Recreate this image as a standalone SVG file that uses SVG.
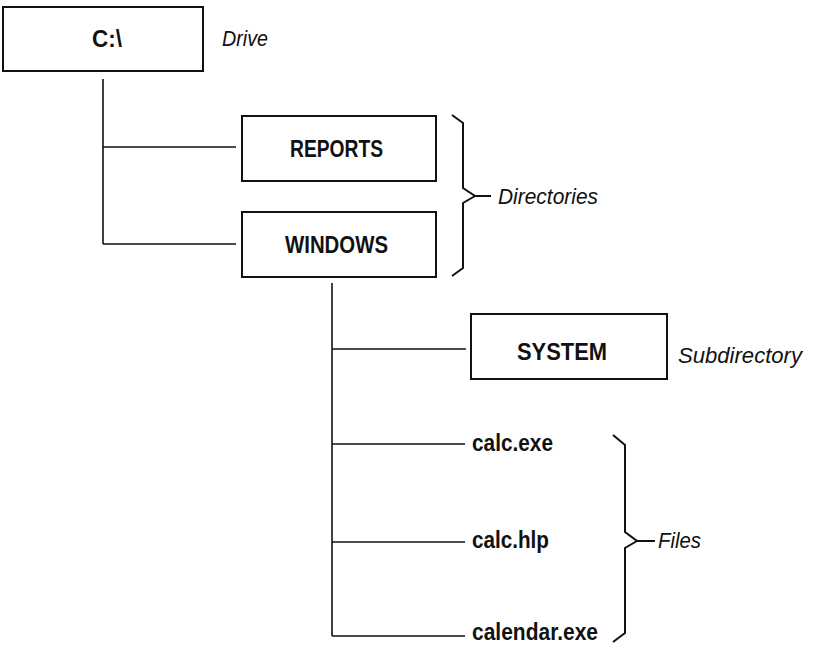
<svg xmlns="http://www.w3.org/2000/svg" width="815" height="646" viewBox="0 0 815 646">
<style>
.box{fill:#fff;stroke:#111;stroke-width:2}
.ln{fill:none;stroke:#111;stroke-width:1.6}
.br{fill:none;stroke:#111;stroke-width:2;stroke-linejoin:miter}
.b{font-family:"Liberation Sans Narrow","Liberation Sans",Arial,sans-serif;font-weight:bold;font-size:24.5px;fill:#111}
.f{font-family:"Liberation Sans Narrow","Liberation Sans",Arial,sans-serif;font-weight:bold;font-size:23px;fill:#111}
.i{font-family:"Liberation Sans",Arial,sans-serif;font-style:italic;font-size:22px;fill:#111}
</style>
<rect width="815" height="646" fill="#fff"/>
<g id="connectors">
<path class="ln" d="M103 79V244M103 147H236M103 244H236"/>
<path class="ln" d="M332 283V636M332 349H466M332 444H465M332 542H465M332 636H465"/>
</g>
<g id="node-c"><rect class="box" x="3" y="7" width="200" height="64"/><text class="b" x="92" y="47" textLength="30" lengthAdjust="spacingAndGlyphs">C:\</text></g>
<g id="label-drive"><text class="i" x="222" y="46" textLength="46" lengthAdjust="spacingAndGlyphs">Drive</text></g>
<g id="node-reports"><rect class="box" x="242" y="116" width="194" height="65"/><text class="b" x="290" y="157" textLength="93" lengthAdjust="spacingAndGlyphs">REPORTS</text></g>
<g id="node-windows"><rect class="box" x="242" y="212" width="194" height="65"/><text class="b" x="285" y="253" textLength="103" lengthAdjust="spacingAndGlyphs">WINDOWS</text></g>
<g id="brace-directories"><path class="br" d="M452 115L463 123V188L475 196L463 203V268L452 276M475 196H491"/><text class="i" x="498" y="204" textLength="100" lengthAdjust="spacingAndGlyphs">Directories</text></g>
<g id="node-system"><rect class="box" x="471" y="314" width="196" height="65"/><text class="b" x="517" y="360" textLength="90" lengthAdjust="spacingAndGlyphs">SYSTEM</text></g>
<g id="label-subdirectory"><text class="i" x="678" y="363" textLength="124" lengthAdjust="spacingAndGlyphs">Subdirectory</text></g>
<g id="file-calc-exe"><text class="f" x="472" y="451" textLength="81" lengthAdjust="spacingAndGlyphs">calc.exe</text></g>
<g id="file-calc-hlp"><text class="f" x="472" y="548" textLength="77" lengthAdjust="spacingAndGlyphs">calc.hlp</text></g>
<g id="file-calendar-exe"><text class="f" x="472" y="640" font-size="22" textLength="126" lengthAdjust="spacingAndGlyphs">calendar.exe</text></g>
<g id="brace-files"><path class="br" d="M613 435L625 445V532L637 541L625 548V633L613 642M637 541H655"/><text class="i" x="658" y="548" textLength="43" lengthAdjust="spacingAndGlyphs">Files</text></g>
</svg>
